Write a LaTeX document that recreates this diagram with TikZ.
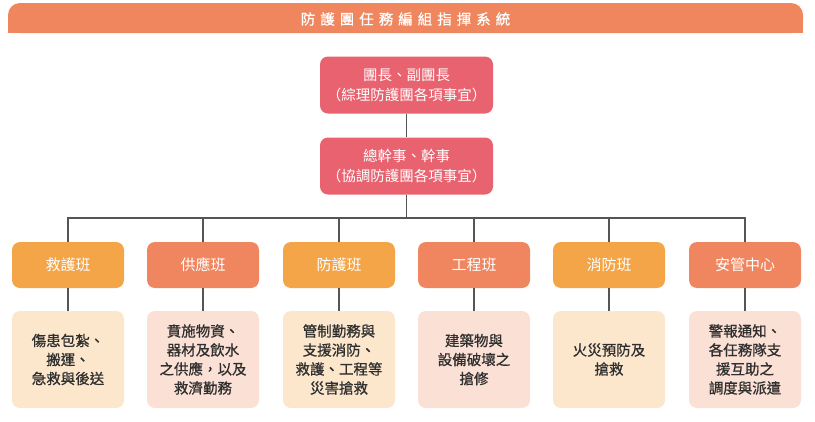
\documentclass[tikz,border=0pt]{standalone}
\usepackage{fontspec}
\setmainfont{Noto Sans CJK TC}
\newfontfamily\medfont{Noto Sans CJK TC}[FakeBold=0.8]
\definecolor{titlec}{HTML}{F0865E}
\definecolor{redc}{HTML}{E8636F}
\definecolor{orangec}{HTML}{F3A548}
\definecolor{salmonc}{HTML}{F0865F}
\definecolor{beigec}{HTML}{FCE7CD}
\definecolor{pinkc}{HTML}{FBE0D5}
\definecolor{linec}{HTML}{555555}
\definecolor{txtc}{HTML}{2F2F2F}
\tikzset{
  headbox/.style={fill=redc, text=white, rounded corners=8pt, minimum width=173pt, minimum height=57pt, align=center, inner sep=0pt, font=\fontsize{14.5}{20}\selectfont},
  teambox/.style={rounded corners=8pt, minimum width=112pt, minimum height=46pt, inner sep=0pt, text=white, font=\fontsize{15}{18}\selectfont},
  orangeteam/.style={teambox, fill=orangec},
  salmonteam/.style={teambox, fill=salmonc},
  descbox/.style={rounded corners=8pt, minimum width=112pt, minimum height=97pt, inner sep=0pt, align=center, text=txtc, font=\medfont\fontsize{14.5}{19}\selectfont},
  beigedesc/.style={descbox, fill=beigec},
  pinkdesc/.style={descbox, fill=pinkc},
  conn/.style={draw=linec, line width=1.1pt}
}
\begin{document}
\begin{tikzpicture}[x=1pt,y=-1pt]
\useasboundingbox (0,0) rectangle (815,421);
% title bar
\fill[titlec, rounded corners=12pt] (8,3) rectangle (803,33);
\fill[titlec] (8,20) rectangle (803,33);
\node[text=white, font=\medfont\fontsize{14.5}{16}\selectfont, inner sep=0pt] (title) at (405.5,19)
  {防\kern5pt 護\kern5pt 團\kern5pt 任\kern5pt 務\kern5pt 編\kern5pt 組\kern5pt 指\kern5pt 揮\kern5pt 系\kern5pt 統};
% head boxes
\node[headbox] (head) at (406.5,85) {團長、副團長\\（綜理防護團各項事宜）};
\node[headbox] (sec) at (406.5,166) {總幹事、幹事\\（協調防護團各項事宜）};
% teams
\node[orangeteam] (t1) at (68,265) {救護班};
\node[salmonteam] (t2) at (203,265) {供應班};
\node[orangeteam] (t3) at (339,265) {防護班};
\node[salmonteam] (t4) at (474,265) {工程班};
\node[orangeteam] (t5) at (609,265) {消防班};
\node[salmonteam] (t6) at (745,265) {安管中心};
% descriptions
\node[beigedesc] (d1) at (68,359.5) {傷患包紮、\\搬運、\\急救與後送};
\node[pinkdesc] (d2) at (203,359.5) {賁施物資、\\器材及飲水\\之供應，以及\\救濟勤務};
\node[beigedesc] (d3) at (339,359.5) {管制勤務與\\支援消防、\\救護、工程等\\災害搶救};
\node[pinkdesc] (d4) at (474,359.5) {建築物與\\設備破壞之\\搶修};
\node[beigedesc] (d5) at (609,359.5) {火災預防及\\搶救};
\node[pinkdesc] (d6) at (745,359.5) {警報通知、\\各任務隊支\\援互助之\\調度與派遣};
% connectors
\coordinate (bus) at (406.5,218);
\draw[conn] (head) -- (sec);
\draw[conn] (sec) -- (bus);
\foreach \i in {1,...,6}{
  \draw[conn] (t\i.north) |- (bus);
  \draw[conn] (t\i) -- (d\i);
}
\end{tikzpicture}
\end{document}
